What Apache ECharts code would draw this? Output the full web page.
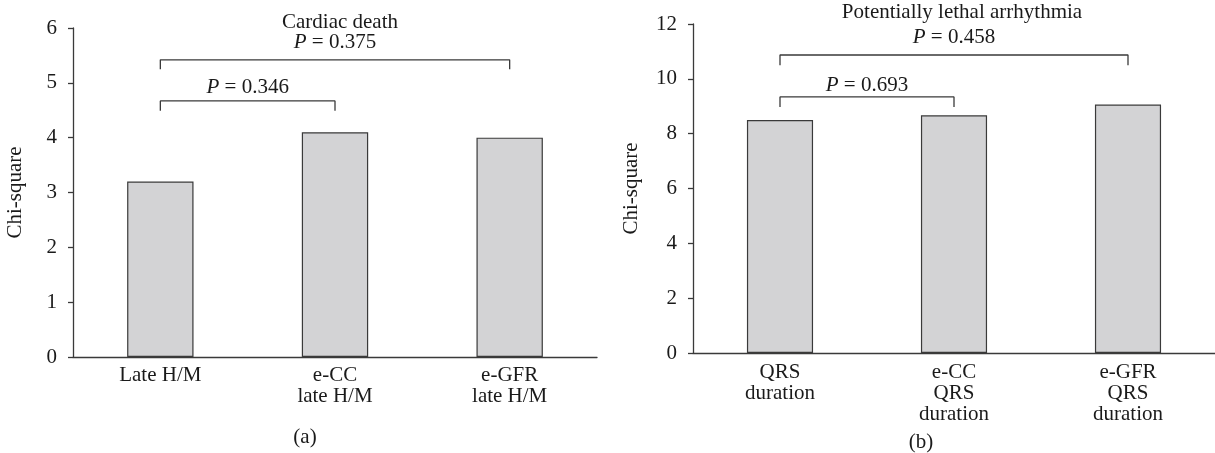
<!DOCTYPE html>
<html>
<head>
<meta charset="utf-8">
<script src="https://cdn.jsdelivr.net/npm/echarts@6/dist/echarts.min.js"></script>
<style>
  html, body { margin: 0; padding: 0; background: #fff; }
  #main { width: 1215px; height: 453px; }
</style>
</head>
<body>
<div id="main"></div>
<script>
// panel (a): cardiac death
var catsA = ['Late H/M', 'e-CC\nlate H/M', 'e-GFR\nlate H/M'];
var valsA = [3.2, 4.1, 4.0];
var pairsA = [[0, 1], [0, 2]];
var bracketTopA = [4.67, 5.42];
var bracketFootA = [4.49, 5.25];
var pValuesA = ['0.346', '0.375'];
var pLabelYA = [4.91, 5.73];

// panel (b): potentially lethal arrhythmia
var catsB = ['QRS\nduration', 'e-CC\nQRS\nduration', 'e-GFR\nQRS\nduration'];
var valsB = [8.5, 8.67, 9.06];
var pairsB = [[0, 1], [0, 2]];
var bracketTopB = [9.34, 10.87];
var bracketFootB = [8.97, 10.5];
var pValuesB = ['0.693', '0.458'];
var pLabelYB = [9.74, 11.5];

var FONT = '"Liberation Serif", "Times New Roman", serif';
var INK = '#1a1a1a';
var LINE = '#3a3a3a';
var FS = 21;

var myChart = echarts.init(document.getElementById('main'));

function catAxis(grid, cats, margin) {
  return {
    gridIndex: grid,
    type: 'category',
    data: cats,
    axisLine: { lineStyle: { color: LINE, width: 1.3 } },
    axisTick: { length: 5, lineStyle: { color: LINE, width: 1.3 } },
    axisLabel: { color: INK, fontFamily: FONT, fontSize: FS, lineHeight: 21, margin: margin, interval: 0 },
  };
}

// invisible value axis so brackets can sit between categories
function hiddenX(grid) {
  return { gridIndex: grid, type: 'value', min: -0.5, max: 2.5, show: false };
}

function valAxis(grid, max, interval, nameGap) {
  return {
    gridIndex: grid,
    type: 'value',
    min: 0,
    max: max,
    interval: interval,
    name: 'Chi-square',
    nameLocation: 'middle',
    nameGap: nameGap,
    nameTextStyle: { color: INK, fontFamily: FONT, fontSize: FS },
    axisLine: { show: true, onZero: false, lineStyle: { color: LINE, width: 1.3 } },
    axisTick: { show: true, length: 5, lineStyle: { color: LINE, width: 1.3 } },
    axisLabel: { color: INK, fontFamily: FONT, fontSize: FS, margin: 16 },
    splitLine: { show: false },
  };
}

function barSeries(xi, yi, vals) {
  return {
    type: 'bar',
    xAxisIndex: xi,
    yAxisIndex: yi,
    data: vals,
    barWidth: '38%',
    itemStyle: { color: '#d3d3d5', borderColor: '#3a3a3a', borderWidth: 1.2 },
    silent: true,
  };
}

function bracketSeries(xi, yi, pairs, tops, feet, pvals, labelY) {
  var out = [];
  for (var i = 0; i < pairs.length; ++i) {
    var a = pairs[i][0], b = pairs[i][1];
    out.push({
      type: 'line',
      xAxisIndex: xi,
      yAxisIndex: yi,
      data: [[a, feet[i]], [a, tops[i]], [b, tops[i]], [b, feet[i]]],
      symbol: 'none',
      lineStyle: { color: LINE, width: 1.3 },
      silent: true,
    });
    out.push({
      type: 'scatter',
      xAxisIndex: xi,
      yAxisIndex: yi,
      clip: false,
      data: [[(a + b) / 2, labelY[i]]],
      symbolSize: 1,
      itemStyle: { color: '#ffffff' },
      label: {
        show: true,
        position: 'inside',
        formatter: '{i|P} = ' + pvals[i],
        color: INK,
        opacity: 1,
        textBorderWidth: 0,
        fontFamily: FONT,
        fontSize: FS,
        rich: { i: { fontStyle: 'italic', fontFamily: FONT, fontSize: FS, color: INK } },
      },
      silent: true,
    });
  }
  return out;
}

function textTitle(text, x, y) {
  return {
    text: text,
    left: x,
    top: y,
    textAlign: 'center',
    textStyle: { color: INK, fontFamily: FONT, fontSize: FS, fontWeight: 'normal' },
  };
}

var option = {
  animation: false,
  backgroundColor: '#ffffff',
  title: [
    textTitle('Cardiac death', 335, 7),
    textTitle('Potentially lethal arrhythmia', 957, -3),
    textTitle('(a)', 300, 422),
    textTitle('(b)', 916, 427),
  ],
  grid: [
    { left: 73, top: 28, width: 524, height: 329 },
    { left: 693, top: 24, width: 524, height: 329 },
  ],
  xAxis: [
    catAxis(0, catsA, 8),
    hiddenX(0),
    catAxis(1, catsB, 9),
    hiddenX(1),
  ],
  yAxis: [
    valAxis(0, 6, 1, 47),
    valAxis(1, 12, 2, 51),
  ],
  series: [barSeries(0, 0, valsA), barSeries(2, 1, valsB)]
    .concat(bracketSeries(1, 0, pairsA, bracketTopA, bracketFootA, pValuesA, pLabelYA))
    .concat(bracketSeries(3, 1, pairsB, bracketTopB, bracketFootB, pValuesB, pLabelYB)),
};

myChart.setOption(option);
</script>
</body>
</html>
